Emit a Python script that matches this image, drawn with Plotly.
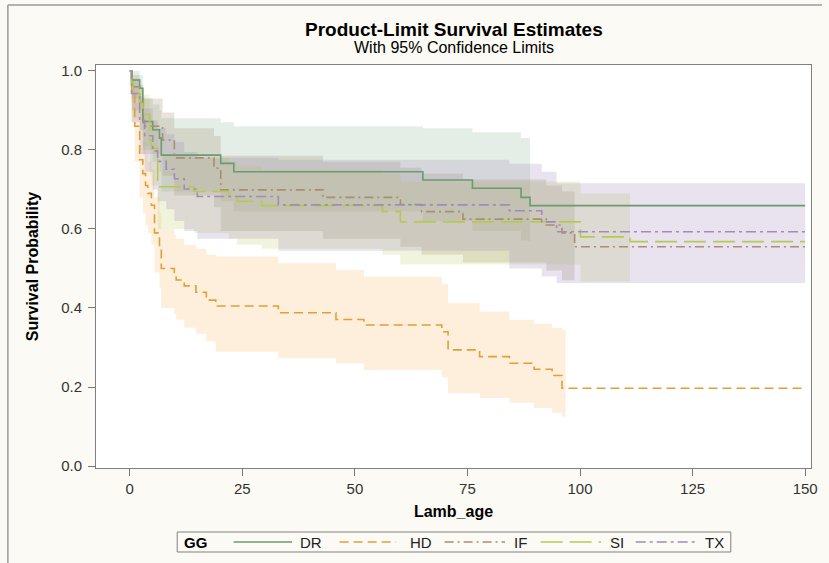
import plotly.graph_objects as go

# ---------------- data ----------------
groups = ["DR", "HD", "IF", "SI", "TX"]

dr_t = [0, 0.4, 2.2, 2.9, 5.1, 6.6, 7.0, 20.2, 23.1, 65.1, 76.1, 86.9, 88.9]
dr_s = [1.0, 0.977, 0.956, 0.872, 0.851, 0.830, 0.787, 0.766, 0.745, 0.724, 0.703, 0.680, 0.659]
dr_lo = [1.0, 0.93, 0.90, 0.80, 0.77, 0.745, 0.695, 0.67, 0.645, 0.62, 0.595, 0.57, 0.545]
dr_hi = [1.0, 1.0, 0.99, 0.93, 0.915, 0.90, 0.88, 0.87, 0.86, 0.855, 0.845, 0.83, 0.79]

hd_t = [0, 0.4, 1.1, 2.2, 2.9, 3.5, 4.0, 4.8, 5.5, 6.6, 7.0, 9.9, 10.3, 12.1, 14.7, 17.0, 19.1,
        33.0, 45.8, 52.0, 69.3, 70.7, 77.7, 84.3, 89.8, 93.8, 96.0]
hd_s = [1.0, 0.94, 0.86, 0.775, 0.74, 0.71, 0.69, 0.66, 0.59, 0.55, 0.50, 0.484, 0.471, 0.456, 0.44, 0.42, 0.405,
        0.388, 0.371, 0.357, 0.34, 0.294, 0.277, 0.260, 0.245, 0.229, 0.197]
hd_lo = [1.0, 0.87, 0.77, 0.68, 0.64, 0.61, 0.59, 0.56, 0.49, 0.45, 0.40, 0.385, 0.37, 0.35, 0.335, 0.315, 0.289,
         0.273, 0.26, 0.243, 0.225, 0.184, 0.172, 0.16, 0.147, 0.135, 0.125]
hd_hi = [1.0, 0.98, 0.92, 0.85, 0.82, 0.79, 0.77, 0.75, 0.68, 0.64, 0.60, 0.585, 0.575, 0.56, 0.55, 0.535, 0.53,
         0.513, 0.496, 0.479, 0.46, 0.412, 0.391, 0.37, 0.36, 0.35, 0.344]

if_t = [0, 0.5, 2.2, 3.0, 7.3, 9.9, 18.7, 20.2, 42.9, 60.1, 64.8, 74.0, 92.5, 96.0, 98.8]
if_s = [1.0, 0.96, 0.92, 0.86, 0.825, 0.78, 0.754, 0.699, 0.68, 0.662, 0.644, 0.625, 0.61, 0.59, 0.555]
if_lo = [1.0, 0.90, 0.85, 0.79, 0.735, 0.685, 0.655, 0.595, 0.575, 0.555, 0.535, 0.515, 0.495, 0.47, 0.43]
if_hi = [1.0, 0.99, 0.965, 0.93, 0.895, 0.855, 0.835, 0.785, 0.77, 0.755, 0.74, 0.725, 0.71, 0.695, 0.665]

si_t = [0, 0.3, 0.7, 2.2, 2.9, 4.4, 4.8, 6.2, 14.3, 22.0, 23.8, 29.3, 56.1, 60.1, 100.1, 111.1]
si_s = [1.0, 0.97, 0.943, 0.918, 0.89, 0.825, 0.804, 0.707, 0.695, 0.682, 0.67, 0.659, 0.644, 0.618, 0.58, 0.568]
si_lo = [1.0, 0.92, 0.88, 0.85, 0.81, 0.74, 0.71, 0.60, 0.59, 0.575, 0.56, 0.55, 0.535, 0.51, 0.467, 0.45]
si_hi = [1.0, 1.0, 0.98, 0.96, 0.94, 0.89, 0.87, 0.79, 0.78, 0.77, 0.76, 0.75, 0.74, 0.72, 0.69, 0.68]

tx_t = [0, 0.4, 2.2, 3.3, 5.1, 6.2, 8.1, 9.9, 12.1, 15.0, 33.0, 84.3, 91.5, 94.8]
tx_s = [1.0, 0.943, 0.875, 0.836, 0.797, 0.771, 0.751, 0.727, 0.701, 0.682, 0.661, 0.646, 0.618, 0.593]
tx_lo = [1.0, 0.87, 0.79, 0.745, 0.70, 0.67, 0.65, 0.62, 0.595, 0.575, 0.545, 0.50, 0.48, 0.463]
tx_hi = [1.0, 0.98, 0.935, 0.905, 0.875, 0.855, 0.84, 0.82, 0.795, 0.78, 0.775, 0.765, 0.745, 0.716]

band_end = [88.9, 96.8, 98.8, 111.1, 150.0]
time_end = 150.0

x_ticks = [0, 25, 50, 75, 100, 125, 150]
y_ticks = [0.0, 0.2, 0.4, 0.6, 0.8, 1.0]

# ---------------- styles ----------------
line_colors = ["#6B9B6F", "#E1A037", "#A68F73", "#B6CA52", "#A18BB8"]
band_colors = ["rgba(111,159,115,0.18)", "rgba(242,172,62,0.19)", "rgba(160,138,110,0.24)",
               "rgba(182,202,82,0.20)", "rgba(160,138,185,0.24)"]
dashes = ["solid", "9px,5px", "9px,4px,2px,4px", "22px,7px", "10px,4px,3px,4px"]
FONT = "Liberation Sans, Arial, sans-serif"

series = [
    (dr_t, dr_s, dr_lo, dr_hi),
    (hd_t, hd_s, hd_lo, hd_hi),
    (if_t, if_s, if_lo, if_hi),
    (si_t, si_s, si_lo, si_hi),
    (tx_t, tx_s, tx_lo, tx_hi),
]

fig = go.Figure()

# confidence bands
for (t, s, lo, hi), end, bc, g in zip(series, band_end, band_colors, groups):
    bt = [v for v in t if v < end]
    n = len(bt)
    bx = bt + [end]
    blo = lo[:n] + [lo[n - 1]]
    bhi = hi[:n] + [hi[n - 1]]
    fig.add_trace(go.Scatter(x=bx, y=blo, mode="lines", line=dict(width=0, shape="hv"),
                             showlegend=False, hoverinfo="skip", name=g + " lower"))
    fig.add_trace(go.Scatter(x=bx, y=bhi, mode="lines", line=dict(width=0, shape="hv"),
                             fill="tonexty", fillcolor=bc, showlegend=False, hoverinfo="skip",
                             name=g + " upper"))

# survival curves
for (t, s, lo, hi), lc, d, g in zip(series, line_colors, dashes, groups):
    fig.add_trace(go.Scatter(x=t + [time_end], y=s + [s[-1]], mode="lines",
                             line=dict(color=lc, width=1.6, dash=d, shape="hv"),
                             name=g, showlegend=False))

# ---------------- layout helpers (pixel -> paper) ----------------
L, R, T, B = 96, 818, 65, 468
def px(xp):
    return (xp - L) / (R - L)
def py(yp):
    return (B - yp) / (B - T)

shapes = []
annotations = []

# outer frame lines
shapes.append(dict(type="line", xref="paper", yref="paper", x0=px(7), x1=px(829), y0=py(5), y1=py(5),
                   line=dict(color="#9A9A9A", width=1.5)))
shapes.append(dict(type="line", xref="paper", yref="paper", x0=px(7), x1=px(7), y0=py(5), y1=py(563),
                   line=dict(color="#9A9A9A", width=1.5)))

# titles
annotations.append(dict(text="<b>Product-Limit Survival Estimates</b>", xref="paper", yref="paper",
                        x=0.5, y=py(30), xanchor="center", yanchor="middle", showarrow=False,
                        font=dict(family=FONT, size=19, color="#000")))
annotations.append(dict(text="With 95% Confidence Limits", xref="paper", yref="paper",
                        x=0.5, y=py(47), xanchor="center", yanchor="middle", showarrow=False,
                        font=dict(family=FONT, size=16, color="#000")))

# custom legend
shapes.append(dict(type="rect", xref="paper", yref="paper", x0=px(178), x1=px(737), y0=py(532), y1=py(552),
                   line=dict(color="#808080", width=1), fillcolor="rgba(0,0,0,0)"))
annotations.append(dict(text="<b>GG</b>", xref="paper", yref="paper", x=px(183), y=py(542),
                        xanchor="left", yanchor="middle", showarrow=False,
                        font=dict(family=FONT, size=15, color="#000")))
leg_line_x = [(235, 294), (342, 399), (448, 509), (545, 606), (641, 702)]
leg_text_x = [300, 411, 516, 613, 709]
for g, lc, d, (a, b), tx in zip(groups, line_colors, dashes, leg_line_x, leg_text_x):
    shapes.append(dict(type="line", xref="paper", yref="paper", x0=px(a), x1=px(b), y0=py(542), y1=py(542),
                       line=dict(color=lc, width=1.6, dash=d)))
    annotations.append(dict(text=g, xref="paper", yref="paper", x=px(tx), y=py(542),
                            xanchor="left", yanchor="middle", showarrow=False,
                            font=dict(family=FONT, size=15, color="#222")))

fig.update_layout(
    width=829, height=563,
    margin=dict(l=L, r=829 - R, t=T, b=563 - B),
    paper_bgcolor="#FCFAF4", plot_bgcolor="#FFFFFF",
    font=dict(family=FONT, size=15, color="#333"),
    shapes=shapes, annotations=annotations,
    showlegend=False,
)
fig.update_xaxes(range=[-7.5, 151.3], tickvals=x_ticks, ticks="outside", ticklen=7, tickcolor="#777",
                 showline=True, mirror=True, linecolor="#808080", linewidth=1, showgrid=False, zeroline=False,
                 title=dict(text="<b>Lamb_age</b>", font=dict(family=FONT, size=16, color="#000"), standoff=9),
                 tickfont=dict(family=FONT, size=15, color="#333"))
fig.update_yaxes(range=[-0.005, 1.015], tickvals=y_ticks, tickformat=".1f", ticks="outside", ticklen=7,
                 tickcolor="#777", showline=True, mirror=True, linecolor="#808080", linewidth=1,
                 showgrid=False, zeroline=False, ticklabelstandoff=3,
                 title=dict(text="<b>Survival Probability</b>", font=dict(family=FONT, size=16, color="#000"),
                            standoff=18),
                 tickfont=dict(family=FONT, size=15, color="#333"))

fig.write_html("out.html")
